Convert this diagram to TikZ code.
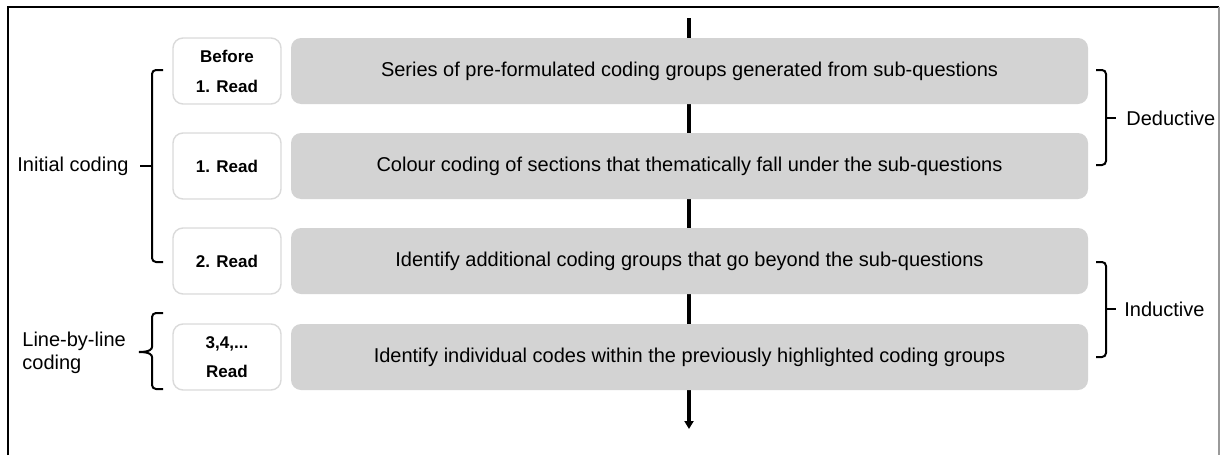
\documentclass[tikz,border=0pt]{standalone}
\usepackage{fontspec}
\setmainfont{Liberation Sans}
\usetikzlibrary{arrows.meta}
\definecolor{stepgrey}{HTML}{D3D3D3}
\definecolor{readedge}{HTML}{DADADA}
\definecolor{frameright}{HTML}{9A9A9A}

\begin{document}
\begin{tikzpicture}[x=0.5pt,y=-0.5pt,
  readbox/.style={draw=readedge, line width=0.7pt, fill=white, rounded corners=5pt,
    minimum width=54pt, minimum height=33pt, inner sep=0pt, align=center,
    font=\fontsize{8.5}{15}\selectfont\bfseries},
  stepbox/.style={fill=stepgrey, rounded corners=5pt, minimum width=398.5pt,
    minimum height=33pt, inner sep=0pt, font=\fontsize{10}{12}\selectfont},
  bracket/.style={line width=1pt, rounded corners=2pt},
  sidelabel/.style={font=\fontsize{10}{11.5}\selectfont, inner sep=0pt, align=left},
  flow/.style={line width=1.6pt, -{Triangle[length=4pt,width=4.5pt]}}]

  % canvas
  \useasboundingbox (0,0) rectangle (1220,455);
  \draw[line width=1pt] (8,455) -- (8,7) -- (1219,7);
  \draw[frameright, line width=0.6pt] (1219,7) -- (1219,455);

  % time axis behind the steps
  \coordinate (axtop) at (689,18);
  \coordinate (axbot) at (689,429);
  \draw[flow] (axtop) -- (axbot);

  % reading rounds
  \node[readbox] (r0) at (227,71)  {Before\\1. Read};
  \node[readbox] (r1) at (227,166) {1. Read};
  \node[readbox] (r2) at (227,261) {2. Read};
  \node[readbox, font=\fontsize{8.5}{14.5}\selectfont\bfseries] (r3) at (227,357) {3,4,...\\Read};

  % coding steps
  \node[stepbox] (s0) at (689.5,71)  {Series of pre-formulated coding groups generated from sub-questions};
  \node[stepbox] (s1) at (689.5,166) {Colour coding of sections that thematically fall under the sub-questions};
  \node[stepbox] (s2) at (689.5,261) {Identify additional coding groups that go beyond the sub-questions};
  \node[stepbox] (s3) at (689.5,357) {Identify individual codes within the previously highlighted coding groups};

  % left-hand phases
  \node[sidelabel, anchor=west] (initial) at (17,166) {Initial coding};
  \draw[bracket] (163,70) -- (152,70) -- (152,262) -- (163,262);
  \draw[line width=1pt] (152,166) -- (140,166);

  \node[sidelabel, anchor=west] (linebyline) at (22,353) {Line-by-line\\coding};
  \draw[bracket] (163,313) -- (152,313) -- (152,343)
    .. controls (152,349) and (150,352) .. (139,352);
  \draw[bracket] (139,352) .. controls (150,352) and (152,355) .. (152,361)
    -- (152,389) -- (163,389);

  % right-hand approaches
  \draw[bracket] (1096,70) -- (1106,70) -- (1106,165) -- (1096,165);
  \draw[line width=1pt] (1106,118) -- (1116,118);
  \node[sidelabel, anchor=west] (deductive) at (1126,118) {Deductive};

  \draw[bracket] (1096,262) -- (1106,262) -- (1106,357) -- (1096,357);
  \draw[line width=1pt] (1106,309) -- (1116,309);
  \node[sidelabel, anchor=west] (inductive) at (1124,309) {Inductive};
\end{tikzpicture}
\end{document}
